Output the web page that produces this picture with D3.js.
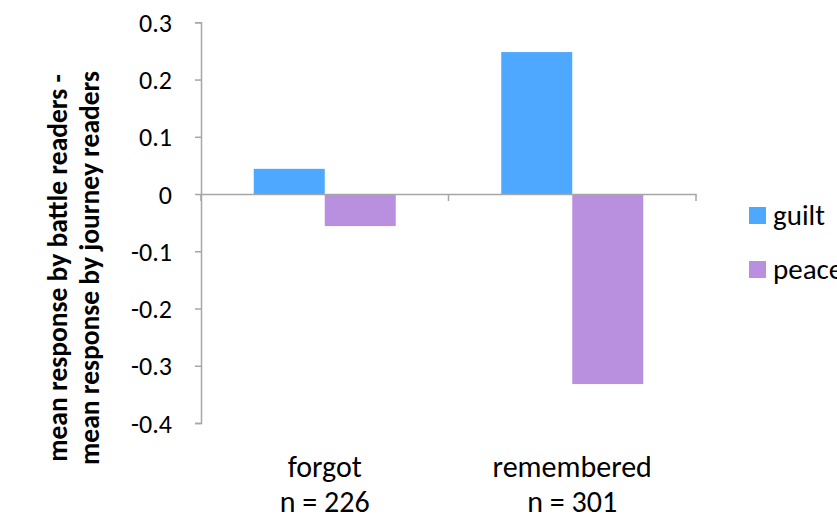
<!DOCTYPE html>
<html><head><meta charset="utf-8">
<script src="https://cdn.jsdelivr.net/npm/d3@7"></script>
<style>body{margin:0;background:#fff}text{font-family:Carlito,Lato,"Open Sans",sans-serif}</style>
</head><body><svg id="c" width="837" height="520"></svg>
<script>
const categories = ["forgot", "remembered"];
const categoryN = ["n = 226", "n = 301"];
const seriesNames = ["guilt", "peace"];
const guiltValues = [0.044, 0.248];
const peaceValues = [-0.056, -0.332];
const yTicks = [0.3, 0.2, 0.1, 0, -0.1, -0.2, -0.3, -0.4];
const colors = ["#4fa8ff", "#b98fdf"];

(function () {
const svg = d3.select("#c");
const pLeft = 201, pRight = 696, pTop = 22.3, pBottom = 423;
const y = d3.scaleLinear().domain([-0.4, 0.3]).range([pBottom, pTop]);
const x0 = d3.scaleBand().domain(categories).range([pLeft, pRight]);
const x1 = d3.scaleBand().domain(seriesNames).range([0, x0.bandwidth()]).paddingInner(0).paddingOuter(0.743);
const axisColor = "#a6a6a6";

// y axis
const yAxis = d3.axisLeft(y).tickValues(yTicks).tickSize(6).tickPadding(8)
  .tickFormat(d => d === 0 ? "0" : d3.format(".1f")(d).replace("\u2212", "-"));
const gy = svg.append("g").attr("transform", `translate(${pLeft},0)`).call(yAxis);
gy.select(".domain").attr("stroke", axisColor).attr("stroke-width", 1.5);
gy.selectAll(".tick line").attr("stroke", axisColor).attr("stroke-width", 1.5);
gy.selectAll(".tick text").attr("fill", "#000").attr("font-size", 26).attr("dy", "0.35em").attr("dx", "-15");

// bars
const rows = categories.map((c, i) => ({cat: c, vals: [guiltValues[i], peaceValues[i]]}));
const g = svg.append("g");
rows.forEach(r => {
  r.vals.forEach((v, j) => {
    g.append("rect")
      .attr("x", x0(r.cat) + x1(seriesNames[j]))
      .attr("width", x1.bandwidth())
      .attr("y", y(Math.max(0, v)))
      .attr("height", Math.abs(y(v) - y(0)))
      .attr("fill", colors[j]);
  });
});

// x axis at zero
const xAxis = d3.axisBottom(x0).tickSize(0).tickFormat("");
const gx = svg.append("g").attr("transform", `translate(0,${y(0)})`).call(xAxis);
gx.select(".domain").attr("stroke", axisColor).attr("stroke-width", 1.5);
const bounds = [pLeft].concat(categories.map(c => x0(c) + x0.bandwidth()));
gx.selectAll(".bt").data(bounds).enter().append("line")
  .attr("x1", d => d).attr("x2", d => d).attr("y1", 0).attr("y2", 7)
  .attr("stroke", axisColor).attr("stroke-width", 1.5);

// category labels
categories.forEach((c, i) => {
  const cx = x0(c) + x0.bandwidth() / 2;
  svg.append("text").attr("x", cx).attr("y", 477).attr("text-anchor", "middle")
    .attr("font-size", 30).attr("fill", "#000").text(c);
  svg.append("text").attr("x", cx).attr("y", 512).attr("text-anchor", "middle")
    .attr("font-size", 30).attr("fill", "#000").text(categoryN[i]);
});

// y title
const yt = svg.append("text").attr("transform", "translate(0,268) rotate(-90)")
  .attr("text-anchor", "middle").attr("font-size", 27.5).attr("font-weight", "bold").attr("fill", "#000");
yt.append("tspan").attr("x", 0).attr("y", 67).text("mean response by battle readers -");
yt.append("tspan").attr("x", 0).attr("y", 99).text("mean response by journey readers");

// legend
seriesNames.forEach((s, i) => {
  const ly = 207 + i * 54;
  svg.append("rect").attr("x", 749).attr("y", ly).attr("width", 17).attr("height", 17).attr("fill", colors[i]);
  svg.append("text").attr("x", 773).attr("y", ly + 18).attr("font-size", 29).attr("fill", "#000").text(s);
});
})();
</script></body></html>
